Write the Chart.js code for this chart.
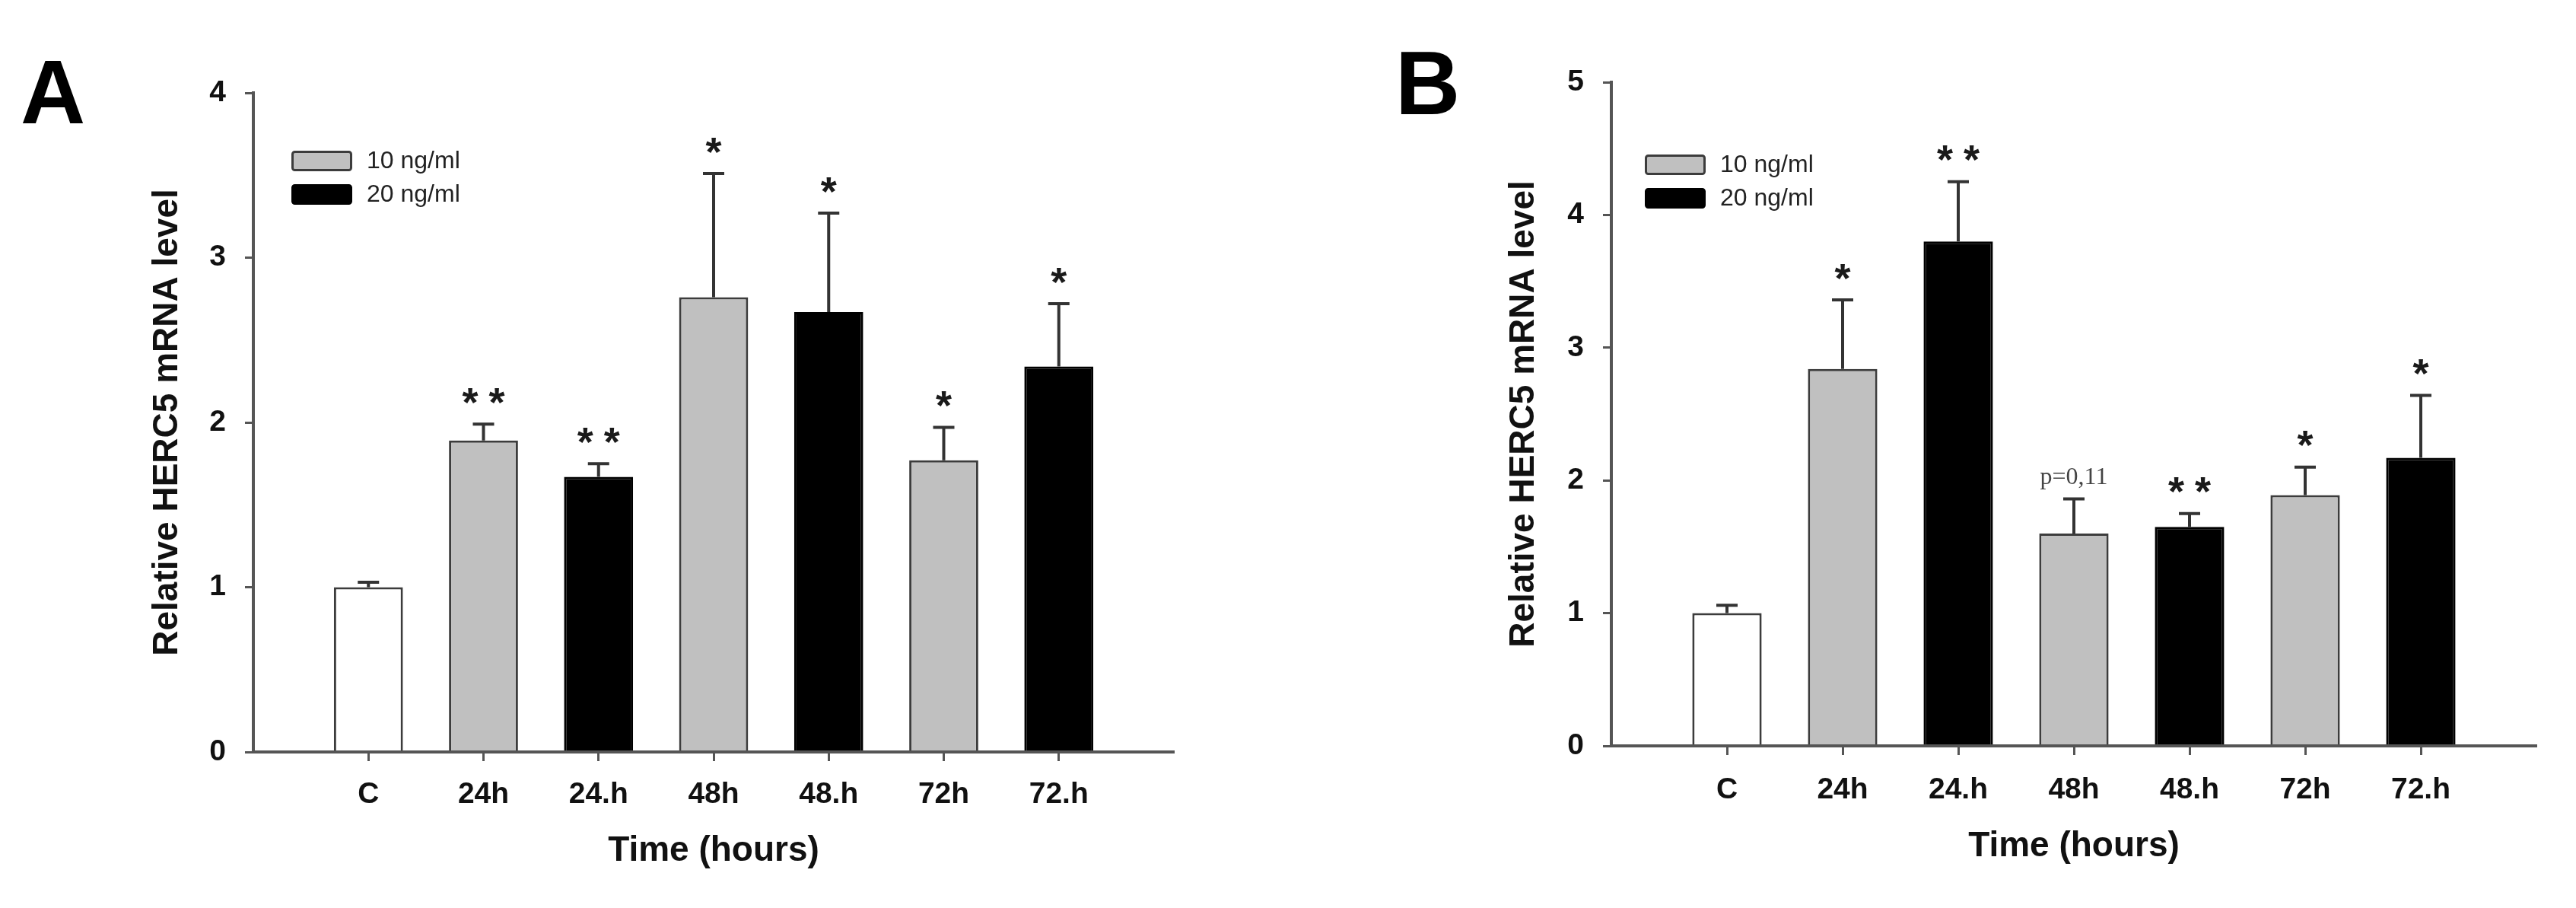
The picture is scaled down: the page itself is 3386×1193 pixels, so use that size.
<!DOCTYPE html>
<html>
<head>
<meta charset="utf-8">
<title>HERC5 mRNA</title>
<script src="https://cdn.jsdelivr.net/npm/chart.js@4.4.0/dist/chart.umd.min.js"></script>
<style>
  html, body { margin: 0; padding: 0; background: #fff; overflow: hidden; }
  canvas { position: absolute; top: 0; }
</style>
</head>
<body>
<canvas id="chartA" width="1693" height="1193" style="left:0"></canvas>
<canvas id="chartB" width="1693" height="1193" style="left:1693px"></canvas>
<script>
// shared categories
const categories = ['C', '24h', '24.h', '48h', '48.h', '72h', '72.h'];
const doses = [0, 10, 20, 10, 20, 10, 20];
const legendDoses = [10, 20];
const legendLabels = ['10 ng/ml', '20 ng/ml'];
const yTitle = 'Relative HERC5 mRNA level';
const xTitle = 'Time (hours)';

// panel A
const valuesA = [1.00, 1.89, 1.67, 2.76, 2.67, 1.77, 2.34];
const errorsA = [0.03, 0.10, 0.08, 0.75, 0.60, 0.20, 0.38];
const marksA = ['', '**', '**', '*', '*', '*', '*'];
const yTicksA = [0, 1, 2, 3, 4];

// panel B
const valuesB = [1.00, 2.84, 3.80, 1.60, 1.65, 1.89, 2.17];
const errorsB = [0.06, 0.52, 0.45, 0.26, 0.10, 0.21, 0.47];
const marksB = ['', '*', '**', 'p=0,11', '**', '*', '*'];
const yTicksB = [0, 1, 2, 3, 4, 5];

const FONT = "'Liberation Sans', Arial, sans-serif";
const FILL = { 0: '#ffffff', 10: '#c0c0c0', 20: '#000000' };
const EDGE = { 0: '#3c3c3c', 10: '#3c3c3c', 20: '#000000' };
const AXIS = '#555555';

Chart.defaults.font.family = FONT;
Chart.defaults.color = '#111';

const errorBars = {
  id: 'errorBars',
  afterDatasetsDraw(chart, args, opts) {
    const { ctx, scales: { x, y } } = chart;
    const points = chart.data.datasets[0].data;
    ctx.save();
    ctx.strokeStyle = '#333';
    ctx.lineWidth = 4;
    points.forEach((p, i) => {
      const px = x.getPixelForValue(p.x);
      const top = y.getPixelForValue(p.y);
      const end = y.getPixelForValue(p.y + opts.errors[i]);
      ctx.beginPath();
      ctx.moveTo(px, top);
      ctx.lineTo(px, end);
      ctx.moveTo(px - 14, end);
      ctx.lineTo(px + 14, end);
      ctx.stroke();

      const mark = opts.marks[i];
      if (!mark) return;
      ctx.textAlign = 'center';
      ctx.textBaseline = 'alphabetic';
      if (/^\*+$/.test(mark)) {
        ctx.fillStyle = '#1a1a1a';
        ctx.font = 'bold 54px ' + FONT;
        const m = ctx.measureText('*');
        const cy = end - 37;
        const base = cy + (m.actualBoundingBoxAscent - m.actualBoundingBoxDescent) / 2;
        const n = mark.length;
        for (let k = 0; k < n; k++) {
          ctx.fillText('*', px + (k - (n - 1) / 2) * 35, base);
        }
      } else {
        ctx.fillStyle = '#444';
        ctx.font = "32px 'Liberation Serif', serif";
        ctx.textBaseline = 'middle';
        ctx.fillText(mark, px, end - 28);
      }
    });
    ctx.restore();
  },
};

const legendBoxes = {
  id: 'legendBoxes',
  afterDraw(chart, args, opts) {
    const { ctx, chartArea } = chart;
    const left = chartArea.left + opts.offsetX;
    ctx.save();
    legendLabels.forEach((label, i) => {
      const top = chartArea.top + opts.offsetY + i * 44;
      const dose = legendDoses[i];
      ctx.beginPath();
      ctx.roundRect(left + 1.5, top + 1.5, 77, 24, 3);
      ctx.fillStyle = FILL[dose];
      ctx.fill();
      ctx.lineWidth = 3;
      ctx.strokeStyle = EDGE[dose];
      ctx.stroke();
      ctx.fillStyle = '#222';
      ctx.font = '32px ' + FONT;
      ctx.textAlign = 'left';
      ctx.textBaseline = 'middle';
      ctx.fillText(label, left + 99, top + 14);
    });
    ctx.restore();
  },
};

const panelLetter = {
  id: 'panelLetter',
  afterDraw(chart, args, opts) {
    const { ctx } = chart;
    ctx.save();
    ctx.fillStyle = '#000';
    ctx.font = 'bold 118px ' + FONT;
    ctx.textAlign = 'left';
    ctx.textBaseline = 'alphabetic';
    ctx.fillText(opts.text, opts.x, opts.y);
    ctx.restore();
  },
};

function makeChart(id, cfg) {
  const canvas = document.getElementById(id);
  return new Chart(canvas, {
    type: 'bar',
    data: {
      datasets: [{
        data: cfg.values.map((v, i) => ({ x: i, y: v })),
        backgroundColor: doses.map(d => FILL[d]),
        borderColor: doses.map(d => EDGE[d]),
        borderWidth: 3,
        borderSkipped: 'start',
        barPercentage: 0.6,
        categoryPercentage: 1,
      }],
    },
    options: {
      responsive: false,
      devicePixelRatio: 1,
      animation: false,
      events: [],
      layout: {
        padding: { left: 0, top: cfg.plotTop, right: canvas.width - cfg.plotRight, bottom: 0 },
      },
      plugins: {
        legend: { display: false },
        tooltip: { enabled: false },
        errorBars: { errors: cfg.errors, marks: cfg.marks },
        legendBoxes: cfg.legend,
        panelLetter: cfg.letter,
      },
      scales: {
        x: {
          type: 'linear',
          min: -1,
          max: 7,
          offset: false,
          afterFit: scale => { scale.height = canvas.height - cfg.plotBottom; },
          afterBuildTicks: scale => { scale.ticks = categories.map((c, i) => ({ value: i })); },
          border: { display: true, color: AXIS, width: 4, z: 1 },
          grid: {
            offset: false,
            drawOnChartArea: false,
            drawTicks: true,
            tickLength: 12,
            tickWidth: 3,
            tickColor: AXIS,
          },
          ticks: {
            autoSkip: false,
            maxRotation: 0,
            padding: cfg.xLabelPad,
            color: '#111',
            font: { size: 39, weight: 'bold' },
            callback: v => categories[v],
          },
          title: {
            display: true,
            text: xTitle,
            color: '#111',
            font: { size: 46, weight: 'bold' },
            padding: { top: 0, bottom: cfg.xTitlePad },
          },
        },
        y: {
          type: 'linear',
          min: cfg.yTicks[0],
          max: cfg.yTicks[cfg.yTicks.length - 1],
          afterFit: scale => { scale.width = cfg.plotLeft; },
          afterBuildTicks: scale => { scale.ticks = cfg.yTicks.map(v => ({ value: v })); },
          border: { display: true, color: AXIS, width: 4, z: 1 },
          grid: { drawOnChartArea: false, drawTicks: true, tickLength: 11, tickWidth: 3, tickColor: AXIS },
          ticks: {
            padding: 25,
            color: '#111',
            font: { size: 39, weight: 'bold' },
            callback: v => String(v),
          },
          title: {
            display: true,
            text: yTitle,
            color: '#111',
            font: { size: 46, weight: 'bold' },
            padding: { top: cfg.yTitlePad, bottom: 0 },
          },
        },
      },
    },
    plugins: [errorBars, legendBoxes, panelLetter],
  });
}

makeChart('chartA', {
  values: valuesA,
  errors: errorsA,
  marks: marksA,
  yTicks: yTicksA,
  plotLeft: 333,
  plotRight: 1543,
  plotTop: 122,
  plotBottom: 988,
  xLabelPad: 21,
  xTitlePad: 47,
  yTitlePad: 193,
  legend: { offsetX: 50, offsetY: 76 },
  letter: { text: 'A', x: 27, y: 162 },
});

makeChart('chartB', {
  values: valuesB,
  errors: errorsB,
  marks: marksB,
  yTicks: yTicksB,
  plotLeft: 425,
  plotRight: 1641,
  plotTop: 108,
  plotBottom: 980,
  xLabelPad: 23,
  xTitlePad: 53,
  yTitlePad: 283,
  legend: { offsetX: 44, offsetY: 95 },
  letter: { text: 'B', x: 141, y: 150 },
});
</script>
</body>
</html>
